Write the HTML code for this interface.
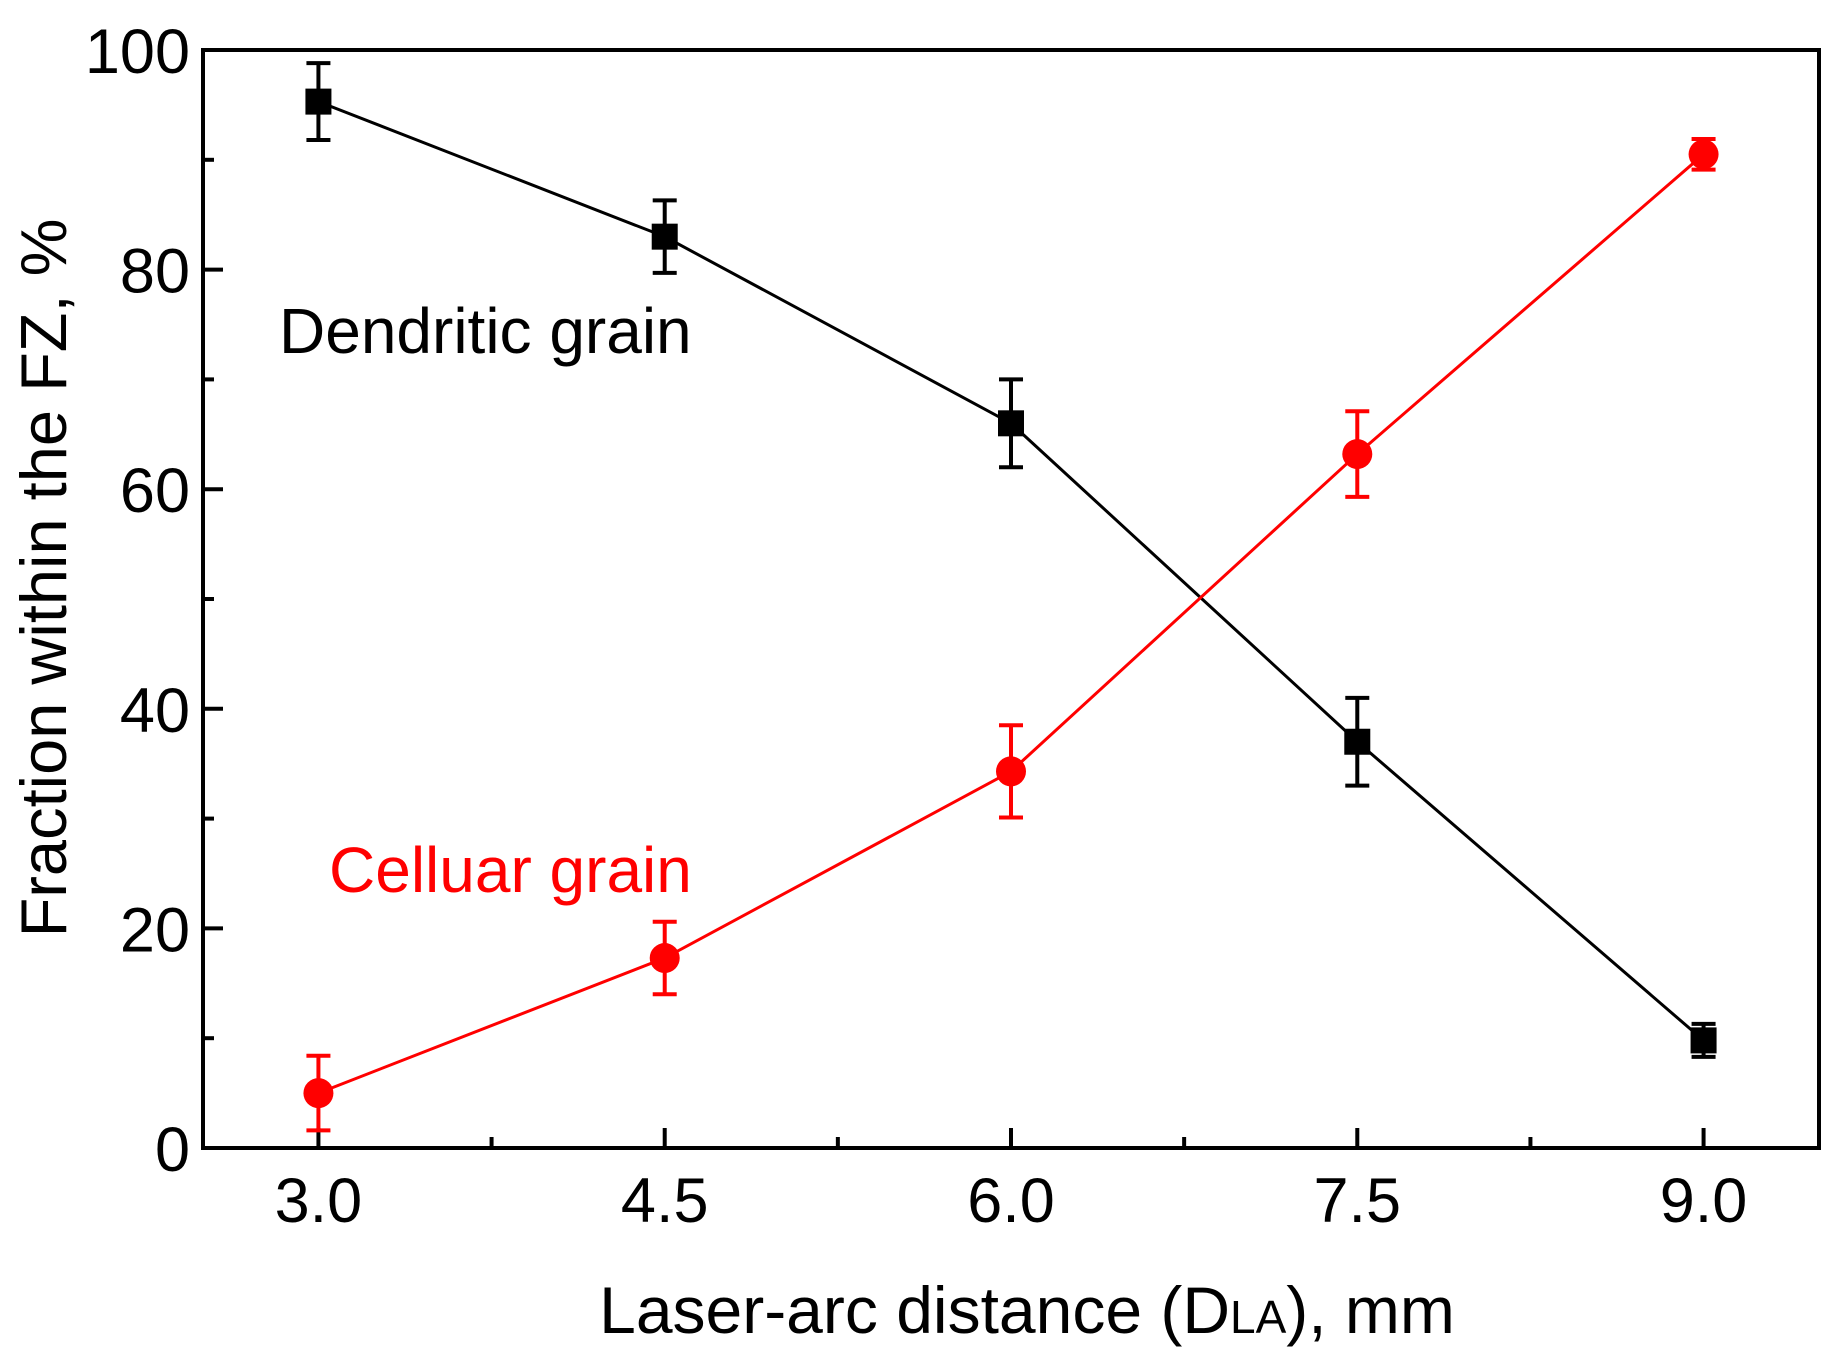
<!DOCTYPE html>
<html><head><meta charset="utf-8">
<style>
html,body{margin:0;padding:0;background:#fff;}
svg{display:block;}
text{font-family:"Liberation Sans",Arial,sans-serif;}
</style></head>
<body>
<svg id="chart" width="1840" height="1363" viewBox="0 0 1840 1363" xmlns="http://www.w3.org/2000/svg">
<rect x="203" y="50" width="1616" height="1098" fill="none" stroke="#000" stroke-width="4"/>
<g id="ticks"></g>
<g id="series"></g>
<text x="279" y="353" font-size="64" fill="#000">Dendritic grain</text>
<text x="329" y="892" font-size="64" fill="#ff0000">Celluar grain</text>
<text x="1027" y="1333" font-size="66" text-anchor="middle" fill="#000">Laser-arc distance (D<tspan font-size="46">LA</tspan>), mm</text>
<text transform="translate(66,578) rotate(-90)" font-size="65" text-anchor="middle" fill="#000">Fraction within the FZ, %</text>
</svg>
<script>
const xValues = [3.0, 4.5, 6.0, 7.5, 9.0];
const dendritic = [95.3, 83.0, 66.0, 37.0, 9.8];
const dendriticErr = [3.5, 3.3, 4.0, 4.0, 1.5];
const cellular = [5.0, 17.3, 34.3, 63.2, 90.5];
const cellularErr = [3.4, 3.3, 4.2, 3.9, 1.4];
const xTickLabels = ["3.0", "4.5", "6.0", "7.5", "9.0"];
const yTickLabels = ["0", "20", "40", "60", "80", "100"];

const L=203,R=1819,T=50,B=1148;
const xMin=2.5,xMax=9.5,yMin=0,yMax=100;
const sx=v=>L+(v-xMin)/(xMax-xMin)*(R-L);
const sy=v=>B-(v-yMin)/(yMax-yMin)*(B-T);
const NS="http://www.w3.org/2000/svg";
function mk(tag,attrs,parent){const e=document.createElementNS(NS,tag);for(const k in attrs)e.setAttribute(k,attrs[k]);parent.appendChild(e);return e;}
const tk=document.getElementById('ticks');
xTickLabels.forEach((lab,i)=>{
  const v=parseFloat(lab);
  const t=mk('line',{x1:sx(v),x2:sx(v),y1:B,y2:B-20,stroke:'#000','stroke-width':4},tk);
  
  
  const tx=mk('text',{x:sx(v),y:1222,'font-size':63,'text-anchor':'middle'},tk);
  tx.textContent=lab;
  
  
  if(i<xTickLabels.length-1){
    const m=mk('line',{x1:sx(v+0.75),x2:sx(v+0.75),y1:B,y2:B-11,stroke:'#000','stroke-width':4},tk);
    
    
  }
});
yTickLabels.forEach((lab,i)=>{
  const v=parseFloat(lab);
  const t=mk('line',{x1:L,x2:L+20,y1:sy(v),y2:sy(v),stroke:'#000','stroke-width':4},tk);
  
  
  const tx=mk('text',{x:190,y:sy(v)+23,'font-size':63,'text-anchor':'end'},tk);
  tx.textContent=lab;
  
  
  if(i<yTickLabels.length-1){
    const m=mk('line',{x1:L,x2:L+11,y1:sy(v+10),y2:sy(v+10),stroke:'#000','stroke-width':4},tk);
    
    
  }
});
const sg=document.getElementById('series');
function drawSeries(vals,errs,color,name,square){
  const g=mk('g',{},sg);
  
  
  const pl=mk('polyline',{points:vals.map((v,i)=>sx(xValues[i])+','+sy(v)).join(' '),fill:'none',stroke:color,'stroke-width':3},g);
  
  
  vals.forEach((v,i)=>{
    const x=sx(xValues[i]),y1=sy(v+errs[i]),y2=sy(v-errs[i]);
    const eb=mk('path',{d:`M${x},${y1}V${y2}M${x-12},${y1}H${x+12}M${x-12},${y2}H${x+12}`,stroke:color,'stroke-width':4,fill:'none'},g);
    
    
    let m;
    if(square) m=mk('rect',{x:x-13,y:sy(v)-13,width:26,height:26,fill:color},g);
    else m=mk('circle',{cx:x,cy:sy(v),r:15,fill:color},g);
    
    
  });
}
drawSeries(dendritic,dendriticErr,'#000','dendritic',true);
drawSeries(cellular,cellularErr,'#ff0000','cellular',false);
</script>
</body></html>
